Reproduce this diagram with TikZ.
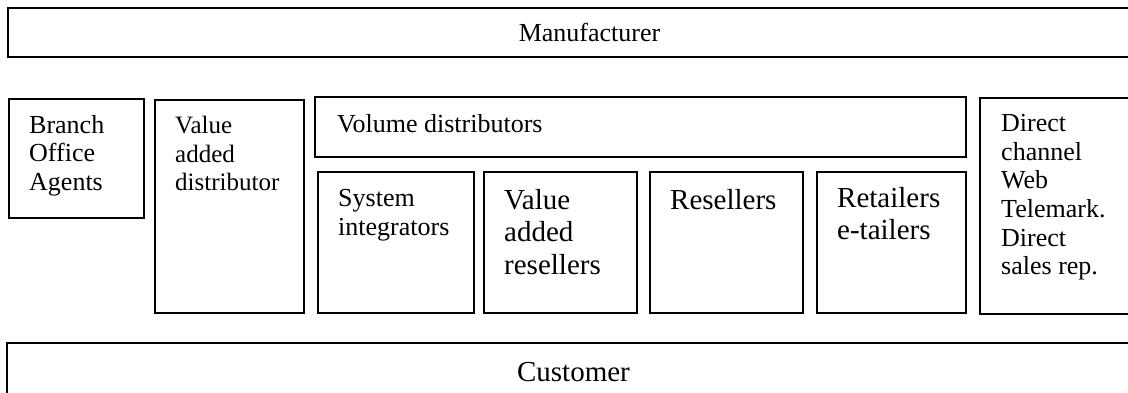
\documentclass[tikz,border=0pt]{standalone}
\usepackage{fontspec}
\setmainfont{Liberation Serif}
\usetikzlibrary{positioning}

\newcommand{\smallfont}{\fontsize{26}{28.7}\selectfont}
\newcommand{\largefont}{\fontsize{29}{32.5}\selectfont}

\begin{document}
\begin{tikzpicture}[x=1pt, y=-1pt,
    box/.style = {draw, line width=2pt, anchor=north west, inner sep=0pt},
    band/.style = {draw, line width=1.2pt, inner sep=0pt},
    txt/.style = {align=left, inner sep=0pt, anchor=north west, font=\smallfont},
    bigtxt/.style = {txt, font=\largefont}]
    \useasboundingbox (0,0) rectangle (1128,392);

    % top and bottom bands
    \node[band, minimum width=1163, minimum height=49, font=\smallfont] (maker) at (589.5,32.5) {Manufacturer};
    \node[band, minimum width=1133, minimum height=58, font=\largefont] (cust) at (573.5,372) {Customer};

    % channel boxes
    \node[box, minimum width=135, minimum height=119] (branch) at (8,98) {};
    \node[box, minimum width=149, minimum height=213] (vad) at (154,99) {};
    \node[box, minimum width=651, minimum height=60] (volume) at (314,96) {};
    \node[box, minimum width=156, minimum height=141] (sysint) at (317,171) {};
    \node[box, minimum width=153, minimum height=141] (var) at (483,171) {};
    \node[box, minimum width=153, minimum height=141] (resell) at (649,171) {};
    \node[box, minimum width=149, minimum height=141] (retail) at (816,171) {};
    \node[box, minimum width=161, minimum height=216] (direct) at (979,97) {};

    % box texts
    \node[txt, below right=17pt and 21pt of branch.north west] (branchtxt) {Branch\\Office\\Agents};
    \node[txt, font=\fontsize{25}{28.7}\selectfont, below right=17pt and 21pt of vad.north west] (vadtxt) {Value\\added\\distributor};
    \node[txt, below right=18pt and 23pt of volume.north west] (volumetxt) {Volume distributors};
    \node[txt, below right=18pt and 21pt of sysint.north west] (sysinttxt) {System\\integrators};
    \node[bigtxt, below right=18pt and 21pt of var.north west] (vartxt) {Value\\added\\resellers};
    \node[bigtxt, below right=18pt and 21pt of resell.north west] (reselltxt) {Resellers};
    \node[bigtxt, below right=16pt and 21pt of retail.north west] (retailtxt) {Retailers\\e-tailers};
    \node[txt, below right=17pt and 22pt of direct.north west] (directtxt) {Direct\\channel\\Web\\Telemark.\\Direct\\sales rep.};
\end{tikzpicture}
\end{document}
